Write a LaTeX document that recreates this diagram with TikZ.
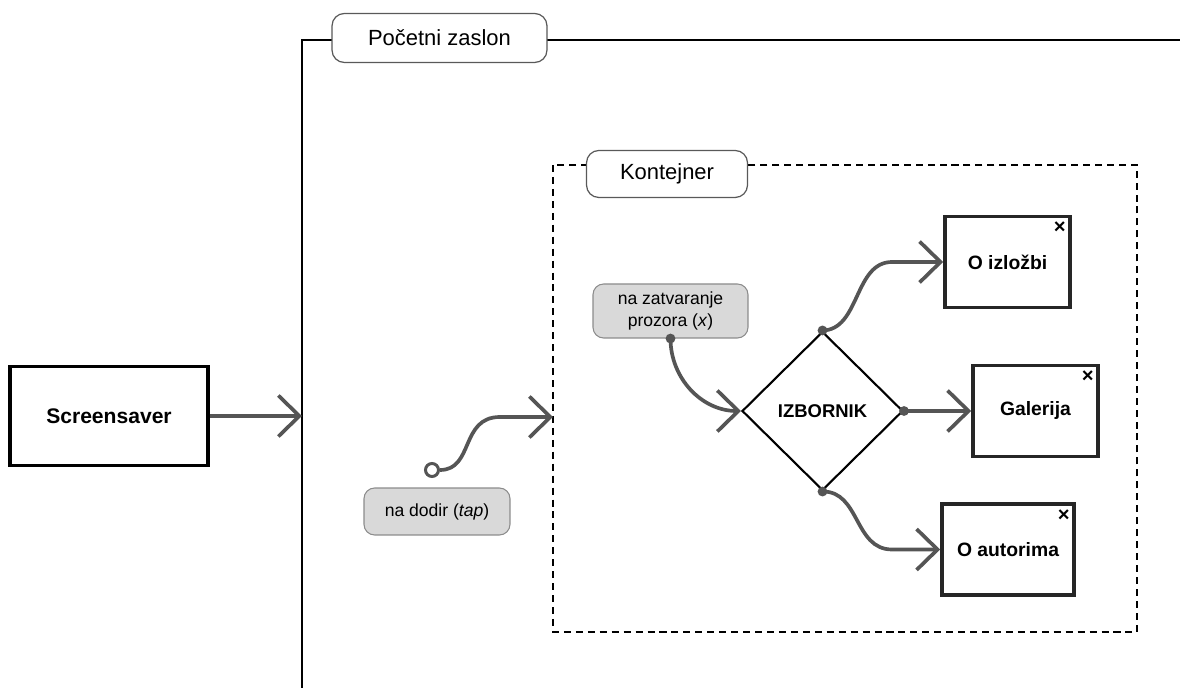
\documentclass[tikz,border=0pt]{standalone}
\usepackage{fontspec}
\setmainfont{Liberation Sans}
\usetikzlibrary{arrows.meta,shapes.geometric}
\definecolor{arrowGray}{HTML}{555555}
\definecolor{tagFill}{HTML}{D9D9D9}
\definecolor{tagEdge}{HTML}{8C8C8C}

\begin{document}
\begin{tikzpicture}
[x=0.02cm,y=-0.02cm,
screenBox/.style={draw=black,line width=2.1pt,fill=white,inner sep=0pt,
font=\bfseries\fontsize{12}{14}\selectfont},
windowBox/.style={draw=black!85,line width=2.1pt,fill=white,inner sep=0pt,
minimum height=1.82cm,font=\bfseries\fontsize{11}{13}\selectfont},
frameLabel/.style={draw=black!65,line width=0.7pt,fill=white,rounded corners=7pt,
inner sep=0pt,font=\fontsize{12.5}{14}\selectfont},
tagBox/.style={draw=tagEdge,line width=0.6pt,fill=tagFill,rounded corners=6pt,
inner sep=0pt,align=center,font=\fontsize{10}{12}\selectfont},
flowArrow/.style={draw=arrowGray,line width=2.1pt,-{Straight Barb[length=0.42cm,width=0.82cm]}},
closeMark/.style={inner sep=0pt,font=\bfseries\fontsize{11.5}{11.5}\selectfont}]
  \useasboundingbox (0,0) rectangle (1180,688);
  % frames
  \draw[line width=1.2pt] (302,688) -- (302,40) -- (1180,40);
  \node[frameLabel,minimum width=4.3cm,minimum height=0.98cm] (zaslonLabel) at (439.5,38) {Početni zaslon};
  \draw[line width=0.9pt,dash pattern=on 4pt off 2.8pt] (553,165) rectangle (1137,632);
  \node[frameLabel,minimum width=3.22cm,minimum height=0.94cm] (kontejnerLabel) at (667,174) {Kontejner};
  \coordinate (zaslonEdge) at (302,416);
  \coordinate (kontejnerEdge) at (553,417);
  % screens
  \node[screenBox,minimum width=3.96cm,minimum height=1.98cm] (screensaver) at (109,416) {Screensaver};
  \node[diamond,draw=black,line width=1.2pt,fill=white,minimum width=3.22cm,minimum height=3.18cm,
    inner sep=0pt,font=\bfseries\fontsize{10.5}{12}\selectfont] (izbornik) at (822.5,411) {IZBORNIK};
  \node[windowBox,minimum width=2.5cm] (izlozbi) at (1007.5,262) {O izložbi};
  \node[windowBox,minimum width=2.5cm] (galerija) at (1035.5,411) {Galerija};
  \node[windowBox,minimum width=2.64cm] (autori) at (1008,549.5) {O autorima};
  \node[closeMark] (izlozbiClose) at ([xshift=-0.24cm,yshift=-0.26cm]izlozbi.north east) {×};
  \node[closeMark] (galerijaClose) at ([xshift=-0.24cm,yshift=-0.26cm]galerija.north east) {×};
  \node[closeMark] (autoriClose) at ([xshift=-0.24cm,yshift=-0.26cm]autori.north east) {×};
  % events
  \node[tagBox,minimum width=2.92cm,minimum height=0.94cm] (tapTag) at (437,511.5) {na dodir (\textit{tap})};
  \node[tagBox,minimum width=3.1cm,minimum height=1.08cm] (zatvaranjeTag) at (670.5,311) {na zatvaranje\\prozora (\textit{x})};
  \node[circle,draw=arrowGray,line width=1.7pt,fill=white,minimum size=0.26cm,inner sep=0pt] (tapStart) at (432,470) {};
  % transitions
  \draw[flowArrow] (screensaver) -- (zaslonEdge);
  \draw[flowArrow] (tapStart.east) .. controls (474,470) and (460,417) .. (500,417) -- (kontejnerEdge);
  \draw[flowArrow] (zatvaranjeTag.south) to[out=-90,in=180] (izbornik.west);
  \draw[flowArrow] (izbornik.north) .. controls (860,330) and (854,262) .. (892,262) -- (izlozbi.west);
  \draw[flowArrow] (izbornik.east) -- (galerija.west);
  \draw[flowArrow] (izbornik.south) .. controls (860,491) and (854,549.5) .. (892,549.5) -- (autori.west);
  \fill[arrowGray] (zatvaranjeTag.south) circle[radius=2.8pt];
  \fill[arrowGray] (izbornik.north) circle[radius=2.8pt];
  \fill[arrowGray] (izbornik.east) circle[radius=2.8pt];
  \fill[arrowGray] (izbornik.south) circle[radius=2.8pt];
\end{tikzpicture}
\end{document}
